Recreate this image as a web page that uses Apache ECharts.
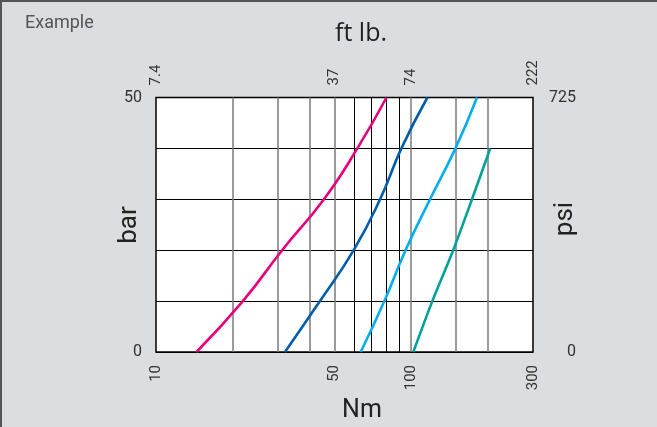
<!DOCTYPE html>
<html>
<head>
<meta charset="utf-8">
<script src="https://cdn.jsdelivr.net/npm/echarts@6/dist/echarts.min.js"></script>
<style>
html,body{margin:0;padding:0;background:#dcdde0;}
#c{width:657px;height:427px;}
</style>
</head>
<body>
<div id="c"></div>
<script>
// ---- data ----
var pressureBar  = [0, 10, 20, 30, 40, 50];
var pinkNm       = [14.4, 21.9, 31.2, 45.5, 61.5, 80];
var darkBlueNm   = [32, 43.9, 59.5, 75.5, 91.5, 115.7];
var lightBlueNm  = [63.4, 78.5, 95, 118.5, 149, 181];
var tealNm       = [101.9, 121, 146, 173, 204];
var nmTicks      = [10, 50, 100, 300];
var ftlbLabels   = ['7.4', '37', '74', '222'];
var barTicks     = [0, 50];
var psiTicks     = [0, 725];
var grayGridNm   = [20, 30, 40, 50, 100, 150, 200];
var blackGridNm  = [60, 70, 80, 90];

function pairs(xs, ys) { return xs.map(function (x, i) { return [x, ys[i]]; }); }

var FONT = 'Roboto, "Noto Sans", sans-serif';
var chart = echarts.init(document.getElementById('c'), null, {renderer: 'canvas'});

var gridMarks = grayGridNm.map(function (v) {
  return {xAxis: v, lineStyle: {color: '#7a7a7a', width: 1.5, type: 'solid'}};
}).concat(blackGridNm.map(function (v) {
  return {xAxis: v, lineStyle: {color: '#000', width: 1, type: 'solid'}};
}));

function curve(name, color, xs, smooth) {
  return {
    name: name, type: 'line', xAxisIndex: 0, yAxisIndex: 0,
    data: pairs(xs, pressureBar), showSymbol: false, smooth: smooth,
    lineStyle: {color: color, width: 2.6}, z: 5, silent: true, animation: false
  };
}

chart.setOption({
  backgroundColor: '#dcdde0',
  animation: false,
  grid: {left: 156, right: 124, top: 97.5, bottom: 75, show: true,
         backgroundColor: '#fff', borderColor: '#000', borderWidth: 1.5},
  xAxis: [{
    type: 'log', logBase: 10, min: 10, max: 300, position: 'bottom',
    axisLine: {show: false}, axisTick: {show: false}, splitLine: {show: false},
    axisLabel: {customValues: nmTicks, rotate: 90, margin: 13,
                fontSize: 15, color: '#333', fontFamily: FONT}
  }, {
    type: 'log', logBase: 10, min: 10, max: 300, position: 'top',
    axisLine: {show: false}, axisTick: {show: false}, splitLine: {show: false},
    axisLabel: {customValues: nmTicks, rotate: 90, margin: 12,
                fontSize: 15, color: '#333', fontFamily: FONT,
                formatter: function (v) { var i = nmTicks.indexOf(Math.round(v)); return i >= 0 ? ftlbLabels[i] : ''; }}
  }],
  yAxis: [{
    type: 'value', min: 0, max: 50, interval: 10, position: 'left',
    axisLine: {show: false}, axisTick: {show: false},
    splitLine: {show: true, lineStyle: {color: '#000', width: 1}},
    axisLabel: {customValues: barTicks, margin: 14, fontSize: 16, color: '#333', fontFamily: FONT}
  }, {
    type: 'value', min: 0, max: 725, position: 'right',
    axisLine: {show: false}, axisTick: {show: false}, splitLine: {show: false},
    axisLabel: {customValues: psiTicks, margin: 43, align: 'right', fontSize: 16, color: '#333', fontFamily: FONT}
  }],
  series: [
    {type: 'line', data: [], xAxisIndex: 0, yAxisIndex: 0, silent: true,
     markLine: {symbol: 'none', silent: true, label: {show: false}, animation: false, data: gridMarks}, z: 2},
    curve('pink', '#e6007e', pinkNm, 0.5),
    curve('darkblue', '#005eaa', darkBlueNm, 0.5),
    curve('lightblue', '#00aeef', lightBlueNm, 0.5),
    curve('teal', '#00a19a', tealNm, 0.3)
  ],
  graphic: [
    {type: 'line', shape: {x1: 0, y1: 1, x2: 657, y2: 1}, style: {stroke: '#555', lineWidth: 2}},
    {type: 'line', shape: {x1: 1, y1: 0, x2: 1, y2: 427}, style: {stroke: '#555', lineWidth: 2}},
    {type: 'text', x: 25, y: 23, style: {text: 'Example', font: '18px ' + FONT, fill: '#555', textAlign: 'left', textVerticalAlign: 'middle'}},
    {type: 'text', x: 361, y: 34, style: {text: 'ft lb.', font: '25px "Open Sans", ' + FONT, fill: '#222', textAlign: 'center', textVerticalAlign: 'middle'}},
    {type: 'text', x: 362, y: 411, style: {text: 'Nm', font: '25px ' + FONT, fill: '#222', textAlign: 'center', textVerticalAlign: 'middle'}},
    {type: 'text', x: 129, y: 225, rotation: Math.PI / 2, style: {text: 'bar', font: '26px ' + FONT, fill: '#222', textAlign: 'center', textVerticalAlign: 'middle'}},
    {type: 'text', x: 565, y: 219, rotation: Math.PI / 2, style: {text: 'psi', font: '26px ' + FONT, fill: '#222', textAlign: 'center', textVerticalAlign: 'middle'}}
  ]
});
</script>
</body>
</html>
